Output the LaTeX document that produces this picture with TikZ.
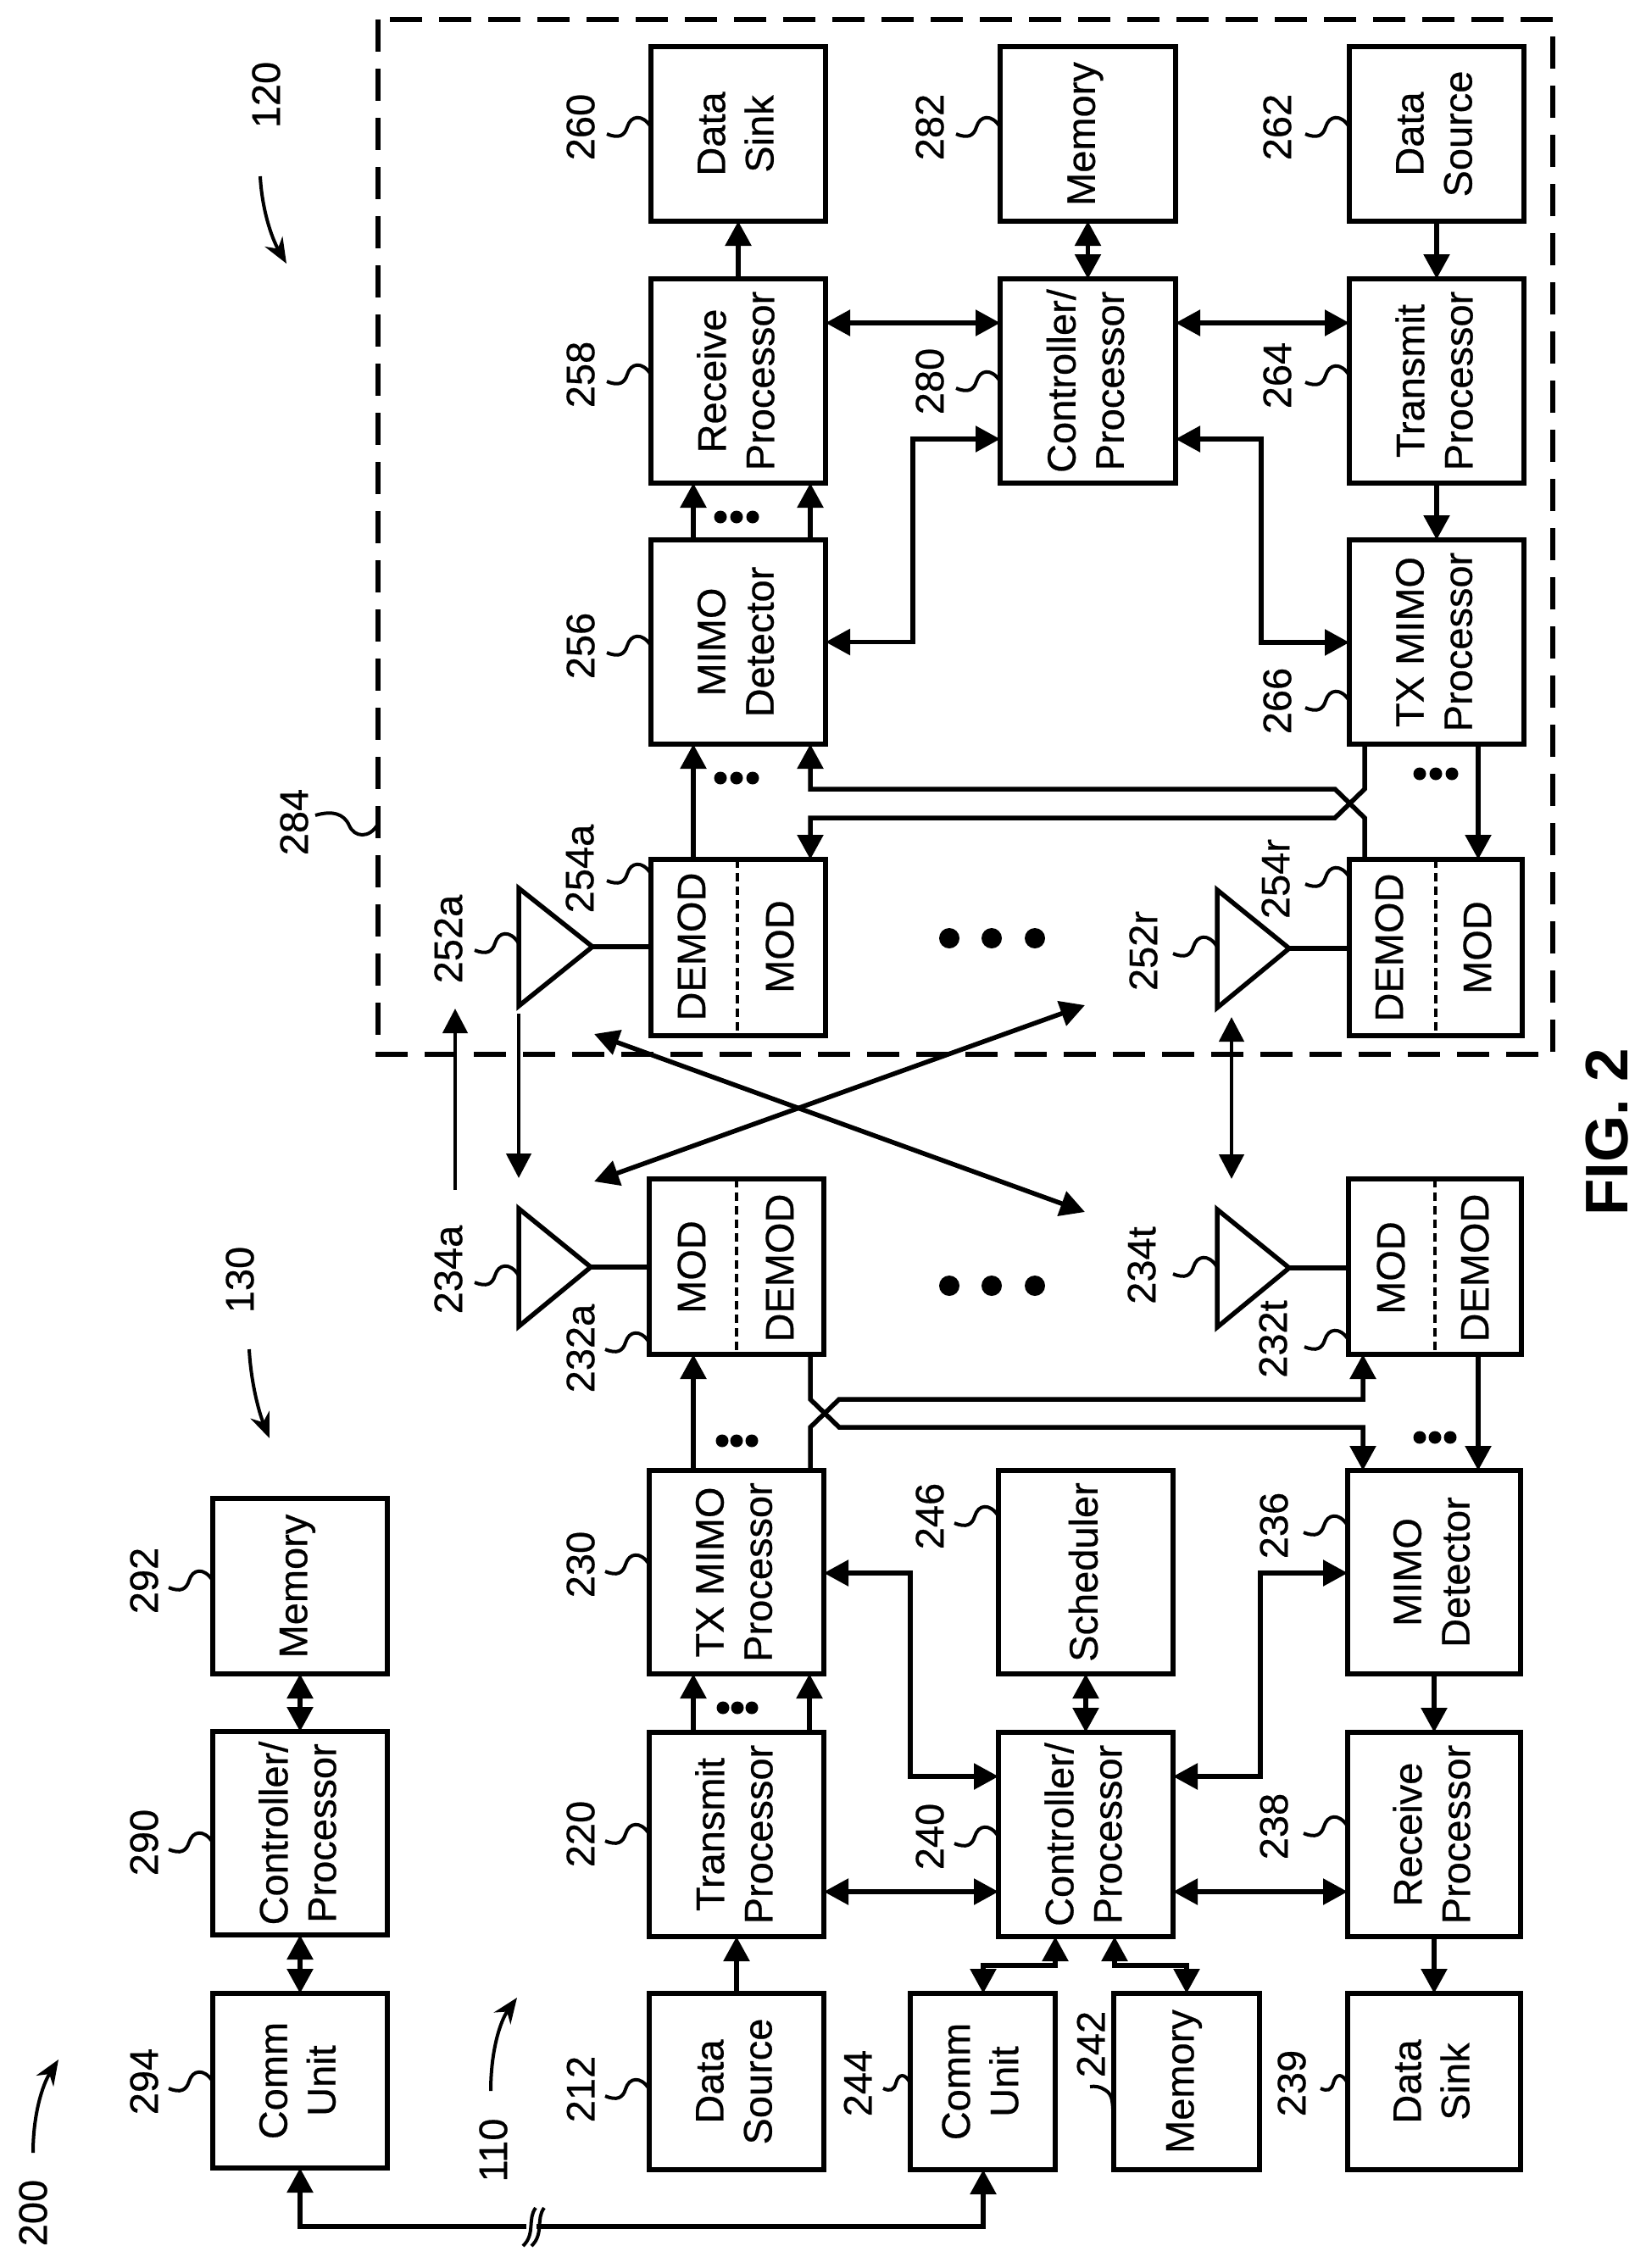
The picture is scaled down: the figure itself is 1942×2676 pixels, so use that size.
\documentclass[tikz,border=0pt]{standalone}
\usepackage{fontspec}
\setmainfont{Liberation Sans}
\newfontfamily\reff{Liberation Sans}[FakeBold=0.5]
\usetikzlibrary{arrows.meta}
\tikzset{
  x=0.5pt,y=-0.5pt,
  boxst/.style={draw,line width=3pt,rectangle,inner sep=0pt,outer sep=0pt,fill=white},
  txt/.style={rotate=90,align=center,inner sep=0pt,font=\reff\fontsize{23.5}{28.5}\selectfont},
  figtxt/.style={rotate=90,inner sep=0pt,font=\fontsize{35.5}{40}\selectfont\bfseries},
  arr/.style={-{Triangle[length=14.5pt,width=15pt]},line width=2.75pt},
  dbl/.style={{Triangle[length=14.5pt,width=15pt]}-{Triangle[length=14.5pt,width=15pt]},line width=2.75pt},
  thinarr/.style={-{Triangle[length=14.5pt,width=14.5pt]},line width=2.3pt},
  thindbl/.style={{Triangle[length=14.5pt,width=14.5pt]}-{Triangle[length=14.5pt,width=14.5pt]},line width=2.3pt},
  plain/.style={line width=2.75pt},
  ant/.style={line width=2.75pt,line join=miter},
  lead/.style={line width=2pt},
  curve/.style={-{Stealth[length=15pt,width=12pt]},line width=2pt},
  divider/.style={line width=1.6pt,dash pattern=on 5pt off 3pt},
  frame/.style={line width=2.9pt,dash pattern=on 19pt off 10pt},
}
\newcommand\bx[6]{%
  \pgfmathsetmacro\bw{(#4-#2)*0.5}\pgfmathsetmacro\bh{(#5-#3)*0.5}%
  \node[boxst,minimum width=\bw pt,minimum height=\bh pt] (#1) at ({(#2+#4)/2},{(#3+#5)/2}) {};
  \node[txt] (#1t) at ([xshift=-1.5pt]#1) {#6};}
\newcommand\lbl[5]{% name text lx ly: label; squiggle ends at sx,sy
  \node[txt] (#1) at (#2,#3) {#1};
  \draw[lead] (#4,#5) .. controls (#4-10,#5-16) and (#4-24,#5-14) .. (#4-28,#5)
     .. controls (#4-31,#5+10) and (#4-38,#5+14) .. (#4-52,#5+8);}
\newcommand\sqs[5]{% short squiggle
  \node[txt] (#1) at (#2,#3) {#1};
  \draw[lead] (#4,#5) .. controls (#4-6,#5-12) and (#4-14,#5-12) .. (#4-17,#5)
     .. controls (#4-19,#5+8) and (#4-24,#5+10) .. (#4-32,#5+6);}
\newcommand\dotsS[4]{\fill (#1,#4) circle[radius=7.5]; \fill (#2,#4) circle[radius=7.5]; \fill (#3,#4) circle[radius=7.5];}
\newcommand\dotsB[1]{\fill (1120,#1) circle[radius=12]; \fill (1170,#1) circle[radius=12]; \fill (1221,#1) circle[radius=12];}
\newcommand\cx[1]{\coordinate (x#1) at (#1,0);}
\newcommand\cy[1]{\coordinate (y#1) at (0,#1);}
\begin{document}
\begin{tikzpicture}
\useasboundingbox (0,0) rectangle (1942,2676);
\fill[white] (0,0) rectangle (1942,2676);
\foreach \v in {818,956,955,1077,1488,1575,1610,1744,990,1608,1074,1487,1160,1400,1245,1315}{\cx{\v}}
\foreach \v in {381,518,758,931,965,964,1651,1683,1684,1856,2096,2232,2319,2627,1117,1119,1495,1496,2500}{\cy{\v}}

% frame
\draw[frame] (446,23) rectangle (1832,1244);

% upper (120) boxes
\bx{ds260}{768}{55}{974}{261}{Data\\Sink}
\bx{rp258}{768}{329}{974}{570}{Receive\\Processor}
\bx{det256}{768}{637}{974}{878}{MIMO\\Detector}
\bx{mem282}{1180}{55}{1387}{261}{Memory}
\bx{ctl280}{1180}{329}{1387}{570}{Controller/\\Processor}
\bx{src262}{1592}{55}{1798}{261}{Data\\Source}
\bx{tp264}{1592}{329}{1798}{570}{Transmit\\Processor}
\bx{tx266}{1592}{637}{1798}{878}{TX MIMO\\Processor}
\bx{mda}{768}{1014}{974}{1222}{}
\bx{mdr}{1592}{1014}{1796}{1222}{}
% lower (110) boxes
\bx{mma}{766}{1391}{972}{1598}{}
\bx{mmt}{1591}{1391}{1795}{1598}{}
\bx{tx230}{766}{1735}{972}{1975}{TX MIMO\\Processor}
\bx{tp220}{766}{2044}{972}{2285}{Transmit\\Processor}
\bx{src212}{766}{2352}{972}{2560}{Data\\Source}
\bx{sch246}{1178}{1735}{1384}{1975}{Scheduler}
\bx{ctl240}{1178}{2044}{1384}{2285}{Controller/\\Processor}
\bx{com244}{1074}{2352}{1245}{2560}{Comm\\Unit}
\bx{mem242}{1314}{2352}{1486}{2560}{Memory}
\bx{det236}{1590}{1735}{1794}{1975}{MIMO\\Detector}
\bx{rp238}{1590}{2044}{1794}{2285}{Receive\\Processor}
\bx{snk239}{1590}{2352}{1794}{2560}{Data\\Sink}
% network controller
\bx{mem292}{251}{1768}{457}{1975}{Memory}
\bx{ctl290}{251}{2043}{457}{2283}{Controller/\\Processor}
\bx{com294}{251}{2352}{457}{2558}{Comm\\Unit}

% modulator texts and dividers
\draw[divider] (870,1014) -- (870,1222);
\draw[divider] (1694,1014) -- (1694,1222);
\draw[divider] (869,1391) -- (869,1598);
\draw[divider] (1693,1391) -- (1693,1598);
\node[txt] (t1) at (816,1117) {DEMOD};
\node[txt] (t2) at (920,1117) {MOD};
\node[txt] (t3) at (1639,1118) {DEMOD};
\node[txt] (t4) at (1743,1118) {MOD};
\node[txt] (t5) at (816,1495) {MOD};
\node[txt] (t6) at (920,1496) {DEMOD};
\node[txt] (t7) at (1641,1496) {MOD};
\node[txt] (t8) at (1740,1496) {DEMOD};

% antennas
\coordinate (tipa) at (699,1117);
\coordinate (tipr) at (1521,1119);
\coordinate (tipb) at (697,1495);
\coordinate (tipt) at (1521,1496);
\draw[ant] (612,1048) -- (tipa) -- (612,1187) -- cycle;
\draw[ant] (1436,1050) -- (tipr) -- (1436,1189) -- cycle;
\draw[ant] (612,1426) -- (tipb) -- (612,1565) -- cycle;
\draw[ant] (1436,1427) -- (tipt) -- (1436,1566) -- cycle;
\draw[plain] (tipa) -- (mda.west |- tipa);
\draw[plain] (tipr) -- (mdr.west |- tipr);
\draw[plain] (tipb) -- (mma.west |- tipb);
\draw[plain] (tipt) -- (mmt.west |- tipt);

% air links
\coordinate (u1) at (537,1404); \coordinate (u2) at (537,1190);
\coordinate (d1) at (612,1196); \coordinate (d2) at (612,1390);
\coordinate (c1) at (701,1220); \coordinate (c2) at (1280,1430);
\coordinate (c3) at (1280,1186); \coordinate (c4) at (701,1394);
\coordinate (v1) at (1453,1200); \coordinate (v2) at (1453,1391);
\draw[thinarr] (u1) -- (u2);
\draw[thinarr] (d1) -- (d2);
\draw[dbl] (c1) -- (c2);
\draw[dbl] (c3) -- (c4);
\draw[thindbl] (v1) -- (v2);

% upper connectors
\draw[arr] (rp258.north) -- (ds260.south);
\draw[dbl] (mem282.south) -- (ctl280.north);
\draw[arr] (src262.south) -- (tp264.north);
\draw[arr] (tp264.south) -- (tx266.north);
\draw[dbl] (rp258.east |- y381) -- (ctl280.west |- y381);
\draw[dbl] (ctl280.east |- y381) -- (tp264.west |- y381);
\draw[arr] (x818 |- det256.north) -- (x818 |- rp258.south);
\draw[arr] (x956 |- det256.north) -- (x956 |- rp258.south);
\draw[dbl] (det256.east) -- (x1077 |- det256.east) -- (x1077 |- y518) -- (ctl280.west |- y518);
\draw[dbl] (ctl280.east |- y518) -- (x1488 |- y518) -- (x1488 |- y758) -- (tx266.west |- y758);
\draw[arr] (x818 |- mda.north) -- (x818 |- det256.south);
\draw[arr] (x1610 |- mdr.north) -- (x1610 |- y965) -- (x1575 |- y931) -- (x956 |- y931) -- (x956 |- det256.south);
\draw[arr] (x1610 |- tx266.south) -- (x1610 |- y931) -- (x1575 |- y965) -- (x956 |- y965) -- (x956 |- mda.north);
\draw[arr] (x1744 |- tx266.south) -- (x1744 |- mdr.north);

% lower connectors
\draw[arr] (src212.north) -- (tp220.south);
\draw[arr] (x818 |- tp220.north) -- (x818 |- tx230.south);
\draw[arr] (x955 |- tp220.north) -- (x955 |- tx230.south);
\draw[arr] (x818 |- tx230.north) -- (x818 |- mma.south);
\draw[arr] (x956 |- mma.south) -- (x956 |- y1651) -- (x990 |- y1684) -- (x1608 |- y1684) -- (x1608 |- det236.north);
\draw[arr] (x956 |- tx230.north) -- (x956 |- y1684) -- (x990 |- y1651) -- (x1608 |- y1651) -- (x1608 |- mmt.south);
\draw[arr] (x1744 |- mmt.south) -- (x1744 |- det236.north);
\draw[arr] (det236.south) -- (rp238.north);
\draw[arr] (rp238.south) -- (snk239.north);
\draw[dbl] (sch246.south) -- (ctl240.north);
\draw[dbl] (tx230.east |- y1856) -- (x1074 |- y1856) -- (x1074 |- y2096) -- (ctl240.west |- y2096);
\draw[dbl] (ctl240.east |- y2096) -- (x1487 |- y2096) -- (x1487 |- y1856) -- (det236.west |- y1856);
\draw[dbl] (tp220.east |- y2232) -- (ctl240.west |- y2232);
\draw[dbl] (ctl240.east |- y2232) -- (rp238.west |- y2232);
\draw[dbl] (x1245 |- ctl240.south) -- (x1245 |- y2319) -- (x1160 |- y2319) -- (x1160 |- com244.north);
\draw[dbl] (x1315 |- ctl240.south) -- (x1315 |- y2319) -- (x1400 |- y2319) -- (x1400 |- mem242.north);

% network controller connectors
\draw[dbl] (mem292.south) -- (ctl290.north);
\draw[dbl] (ctl290.south) -- (com294.north);
\coordinate (brkL) at (621,2627);
\coordinate (brkR) at (633,2627);
\draw[arr] (brkL) -- (com294.south |- y2627) -- (com294.south);
\draw[arr] (brkR) -- (x1160 |- y2627) -- (x1160 |- com244.south);
\draw[lead] (632,2605) .. controls (622,2618) and (632,2636) .. (617,2650);
\draw[lead] (642,2605) .. controls (632,2618) and (642,2636) .. (627,2650);

% ellipsis dots
\dotsS{850}{869}{888}{610}
\dotsS{850}{869}{888}{918}
\dotsS{1675}{1694}{1713}{913}
\dotsS{852}{869}{887}{1700}
\dotsS{1675}{1693}{1711}{1696}
\dotsS{853}{870}{887}{2015}
\dotsB{1107}
\dotsB{1517}

% reference labels
\lbl{260}{685}{150}{768}{150}
\lbl{258}{685}{442}{768}{442}
\lbl{256}{685}{762}{768}{762}
\lbl{282}{1097}{150}{1180}{150}
\lbl{280}{1097}{450}{1180}{450}
\lbl{262}{1507}{150}{1592}{150}
\lbl{264}{1507}{443}{1592}{443}
\lbl{266}{1507}{827}{1592}{827}
\lbl{254a}{684}{1025}{768}{1031}
\lbl{254r}{1505}{1037}{1592}{1035}
\lbl{252a}{529}{1108}{612}{1113}
\lbl{252r}{1349}{1122}{1436}{1117}
\lbl{234a}{529}{1498}{612}{1505}
\lbl{234t}{1347}{1493}{1436}{1495}
\lbl{232a}{685}{1591}{766}{1584}
\lbl{232t}{1502}{1580}{1591}{1581}
\lbl{292}{170}{1865}{251}{1865}
\lbl{290}{170}{2174}{251}{2174}
\lbl{294}{170}{2456}{251}{2456}
\lbl{230}{685}{1846}{766}{1846}
\lbl{220}{685}{2164}{766}{2164}
\lbl{212}{685}{2465}{766}{2465}
\lbl{246}{1097}{1789}{1178}{1789}
\lbl{240}{1097}{2167}{1178}{2167}
\lbl{236}{1503}{1800}{1590}{1800}
\lbl{238}{1503}{2155}{1590}{2155}
\sqs{244}{1012}{2458}{1074}{2458}
\sqs{239}{1524}{2458}{1590}{2458}
\node[txt] (242) at (1287,2412) {242};
\draw[lead] (mem242.west |- y2500) .. controls (1312,2482) and (1314,2472) .. (1304,2466) .. controls (1298,2462) and (1292,2461) .. (1286,2462);
\node[txt] (284) at (347,970) {284};
\draw[lead] (446,972) .. controls (436,990) and (418,988) .. (412,974) .. controls (406,960) and (392,956) .. (372,962);

% system labels
\node[txt] (200) at (39,2611) {200};
\node[txt] (110) at (582,2537) {110};
\node[txt] (130) at (283,1510) {130};
\node[txt] (120) at (314,112) {120};
\draw[curve] (39,2540) .. controls (39,2495) and (50,2460) .. (69,2430);
\draw[curve] (579,2467) .. controls (579,2420) and (590,2385) .. (610,2357);
\draw[curve] (294,1592) .. controls (296,1630) and (305,1665) .. (318,1697);
\draw[curve] (307,208) .. controls (309,246) and (320,280) .. (338,311);

\node[figtxt] (fig) at (1896,1336) {FIG. 2};
\end{tikzpicture}
\end{document}
